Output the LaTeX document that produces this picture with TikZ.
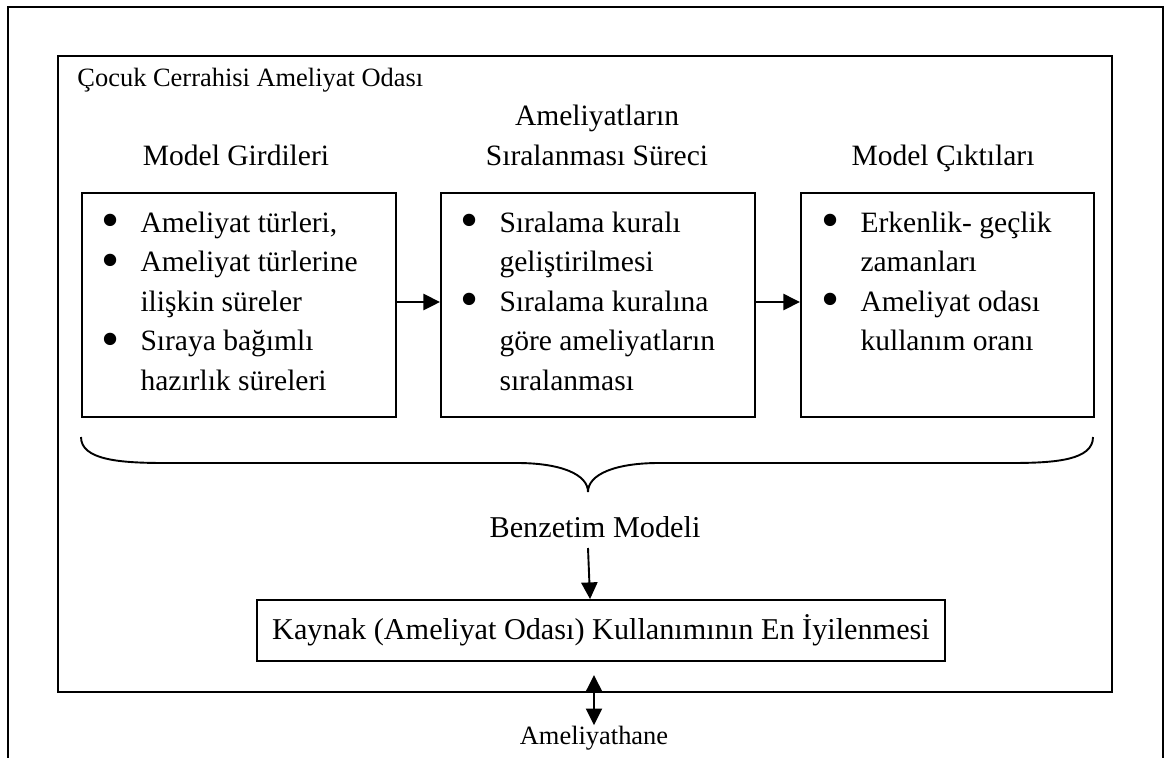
\documentclass[tikz,border=0pt]{standalone}
\usepackage{fontspec}
\setmainfont{Liberation Serif}
\usetikzlibrary{arrows.meta}

\tikzset{
  frame/.style={draw, line width=0.8pt, inner sep=0pt},
  stagebox/.style={frame, minimum height=94.1pt},
  bodytext/.style={font=\fontsize{12.4}{16.6}\selectfont, inner sep=0pt},
  largetext/.style={font=\fontsize{12.7}{16.6}\selectfont, inner sep=0pt},
  smalltext/.style={font=\fontsize{11.1}{13}\selectfont, inner sep=0pt},
  arr/.style={line width=0.8pt, -{Triangle[length=7pt,width=6.8pt]}},
  biarr/.style={line width=0.8pt, {Triangle[length=7pt,width=6.8pt]}-{Triangle[length=7pt,width=6.8pt]}},
}
% bullet item helpers
\newcommand{\bigbullet}{\smash{\raisebox{-2.4pt}{\scalebox{1.75}{\textbullet}}}}
\newcommand{\bitem}[1]{\makebox[16.4pt][l]{\bigbullet}#1}
\newcommand{\bcont}[1]{\hspace*{16.4pt}#1}

\begin{document}
\begin{tikzpicture}[x=0.42pt, y=-0.42pt]
  \useasboundingbox (0,0) rectangle (1166,758);

  % outer frame, open at the bottom
  \draw[line width=0.8pt] (8,758) -- (8,7) -- (1163,7) -- (1163,758);

  % operating room frame
  \node[frame, minimum width=442.7pt, minimum height=267.1pt] (room) at (585,374) {};
  \node[smalltext, anchor=base west] (roomlabel) at (77,86) {Çocuk Cerrahisi Ameliyat Odası};

  % headings
  \node[bodytext, anchor=base] (h1) at (236,165) {Model Girdileri};
  \node[bodytext, anchor=base] (h2) at (597,165)
    {\begin{tabular}[b]{@{}c@{}}Ameliyatların\\Sıralanması Süreci\end{tabular}};
  \node[bodytext, anchor=base] (h3) at (943,165) {Model Çıktıları};

  % stage boxes
  \node[stagebox, minimum width=131.9pt] (b1) at (239,305) {};
  \node[stagebox, minimum width=131.9pt] (b2) at (598,305) {};
  \node[stagebox, minimum width=123.1pt] (b3) at (947.5,305) {};

  % box contents
  \node[bodytext, anchor=base west] (t1) at (101,232)
    {\begin{tabular}[t]{@{}l@{}}
      \bitem{Ameliyat türleri,}\\
      \bitem{Ameliyat türlerine}\\
      \bcont{ilişkin süreler}\\
      \bitem{Sıraya bağımlı}\\
      \bcont{hazırlık süreleri}
    \end{tabular}};
  \node[bodytext, anchor=base west] (t2) at (460,232)
    {\begin{tabular}[t]{@{}l@{}}
      \bitem{Sıralama kuralı}\\
      \bcont{geliştirilmesi}\\
      \bitem{Sıralama kuralına}\\
      \bcont{göre ameliyatların}\\
      \bcont{sıralanması}
    \end{tabular}};
  \node[bodytext, anchor=base west] (t3) at (821,232)
    {\begin{tabular}[t]{@{}l@{}}
      \bitem{Erkenlik- geçlik}\\
      \bcont{zamanları}\\
      \bitem{Ameliyat odası}\\
      \bcont{kullanım oranı}
    \end{tabular}};

  % flow between stages
  \draw[arr] ([yshift=1.26pt]b1.east) -- ([yshift=1.26pt]b2.west);
  \draw[arr] ([yshift=1.26pt]b2.east) -- ([yshift=1.26pt]b3.west);

  % brace under the three stages
  \draw[line width=0.8pt]
    (81,437) .. controls (81,460) and (120,463) .. (165,463)
    -- (517,463) .. controls (560,463) and (588,474) .. (588,492)
    .. controls (588,474) and (616,463) .. (659,463)
    -- (1011,463) .. controls (1056,463) and (1093,460) .. (1093,437);

  % simulation model and optimisation
  \node[largetext, anchor=base] (sim) at (595,537) {Benzetim Modeli};
  \node[frame, largetext, minimum width=289pt, minimum height=25.6pt] (opt) at (601,630.5)
    {Kaynak (Ameliyat Odası) Kullanımının En İyilenmesi};
  \coordinate (simtail) at (588,548);
  \draw[arr] (simtail) -- ([xshift=-4.6pt]opt.north);

  % link to the operating theatre
  \node[smalltext, anchor=base] (theatre) at (594,744) {Ameliyathane};
  \coordinate (linktop) at (594,675);
  \draw[biarr] (linktop) -- (theatre.north);
\end{tikzpicture}
\end{document}
